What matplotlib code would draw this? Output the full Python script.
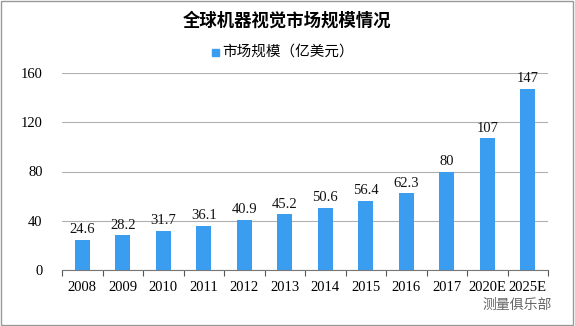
import matplotlib
matplotlib.use('Agg')
from matplotlib import pyplot as plt
from matplotlib.patches import Rectangle

plt.rcParams['font.family'] = ['Noto Sans CJK SC', 'DejaVu Sans']

years = ['2008', '2009', '2010', '2011', '2012', '2013', '2014', '2015',
         '2016', '2017', '2020E', '2025E']
market_size = [24.6, 28.2, 31.7, 36.1, 40.9, 45.2, 50.6, 56.4, 62.3, 80, 107, 147]
value_labels = ['24.6', '28.2', '31.7', '36.1', '40.9', '45.2', '50.6', '56.4',
                '62.3', '80', '107', '147']
y_ticks = [0, 40, 80, 120, 160]

bar_color = '#3A9DF0'
num_font = 'Liberation Serif'

fig = plt.figure(figsize=(5.75, 3.26), dpi=100)
ax = fig.add_axes([62 / 575, 1 - 270 / 326, (548 - 62) / 575, (270 - 73) / 326])

x = list(range(len(years)))
ax.bar(x, market_size, width=0.37, color=bar_color, zorder=3)
for xi, v, lab in zip(x, market_size, value_labels):
    ax.text(xi, v + 3, lab, ha='center', va='bottom', fontsize=10.5,
            family=num_font, color='#111111')

ax.set_xlim(-0.5, len(years) - 0.5)
ax.set_ylim(0, 160)
ax.set_yticks(y_ticks)
ax.set_yticklabels([str(t) for t in y_ticks], family=num_font, fontsize=10.5)
ax.set_xticks([i - 0.5 for i in range(len(years) + 1)], minor=False)
ax.set_xticklabels([''] * (len(years) + 1))
ax.set_xticks(x, minor=True)
ax.set_xticklabels(years, minor=True, family=num_font, fontsize=10.5)
ax.tick_params(axis='x', which='major', length=4, color='#555555')
ax.tick_params(axis='x', which='minor', length=0, pad=8)
ax.tick_params(axis='y', length=0, pad=14)
ax.yaxis.grid(True, color='#b0b0b0', linewidth=0.8, zorder=0)
for side in ['top', 'right', 'left']:
    ax.spines[side].set_visible(False)
ax.spines['bottom'].set_color('#777777')

fig.text(0.5, 1 - 21 / 326, '全球机器视觉市场规模情况', ha='center', va='center',
         fontsize=12.5, fontweight='bold')
fig.patches.append(Rectangle((212 / 575, 1 - 56 / 326), 7 / 575, 7 / 326,
                             transform=fig.transFigure, color=bar_color))
fig.text(222 / 575, 1 - 52 / 326, '市场规模（亿美元）', ha='left', va='center', fontsize=10.5)
fig.text(552 / 575, 1 - 305 / 326, '测量俱乐部', ha='right', va='center',
         fontsize=10, color='#666666')

# border round the picture
fig.patches.append(Rectangle((0.002, 0.003), 0.995, 0.994, transform=fig.transFigure,
                             fill=False, edgecolor='#999999', linewidth=1))

fig.savefig('out.png', dpi=100)
